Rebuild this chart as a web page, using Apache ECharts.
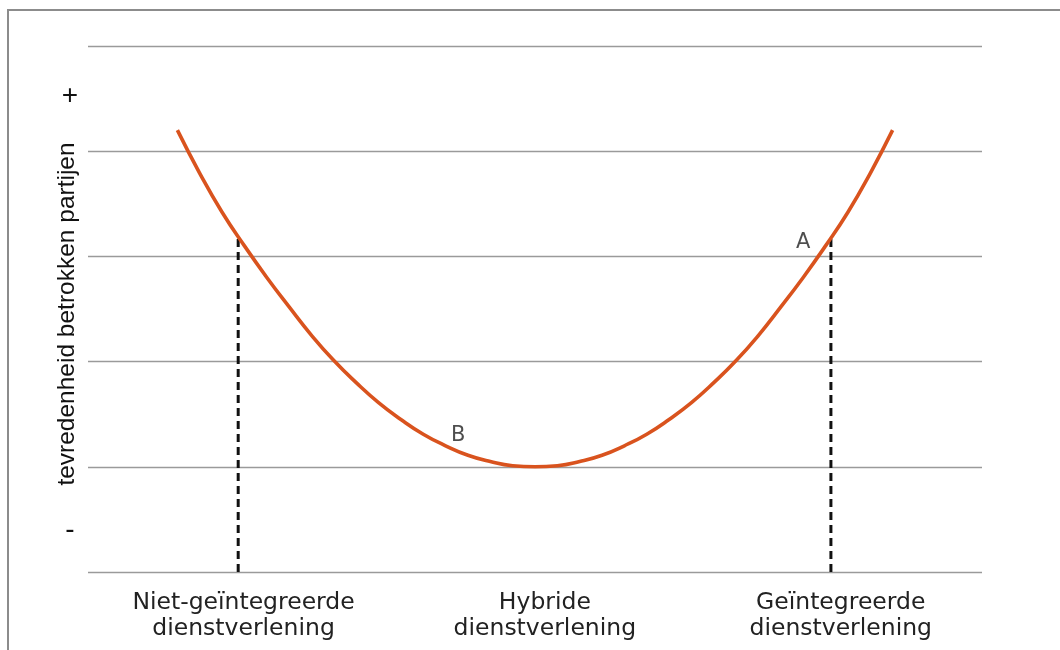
<!DOCTYPE html>
<html>
<head>
<meta charset="utf-8">
<script src="https://cdn.jsdelivr.net/npm/echarts@6/dist/echarts.min.js"></script>
<style>
html,body{margin:0;padding:0;background:#fff;}
#chart{width:1060px;height:650px;}
</style>
</head>
<body>
<div id="chart"></div>
<script>
// Curve (x: 0..100 position along the axis, y: satisfaction 0..5)
const curveX = [10, 12.5, 15, 17.5, 20, 22.5, 25, 27.5, 30, 32.5, 35, 37.5, 40, 42.5, 45, 47.5, 50,
                52.5, 55, 57.5, 60, 62.5, 65, 67.5, 70, 72.5, 75, 77.5, 80, 82.5, 85, 87.5, 90];
const curveY = [4.20, 3.79, 3.42, 3.10, 2.80, 2.52, 2.25, 2.01, 1.80, 1.61, 1.45, 1.31, 1.20, 1.11, 1.05, 1.01, 1.00,
                1.01, 1.05, 1.11, 1.20, 1.31, 1.45, 1.61, 1.80, 2.01, 2.25, 2.52, 2.80, 3.10, 3.42, 3.79, 4.20];

// Dashed drop lines (x position, top value)
const dropX = [16.8, 83.1];
const dropTop = [3.18, 3.20];

// Point labels
const pointNames = ['A', 'B'];
const pointX = [80.0, 41.4];
const pointY = [3.13, 1.30];

// X category labels and their positions
const xLabels = ['Niet-geïntegreerde\ndienstverlening', 'Hybride\ndienstverlening', 'Geïntegreerde\ndienstverlening'];
const xLabelPos = [17.4, 51.1, 84.2];

// Y scale end labels
const yLabels = ['-', '+'];
const yLabelPos = [0.4, 4.52];
const yTitle = 'tevredenheid betrokken partijen';

const chart = echarts.init(document.getElementById('chart'));

const curveData = curveX.map((x, i) => [x, curveY[i]]);
const dropSeries = dropX.map((x, i) => ({
  type: 'line',
  data: [[x, 0], [x, dropTop[i]]],
  symbol: 'none',
  lineStyle: { color: '#111', width: 3, type: [8, 5] },
  z: 1,
  silent: true
}));

chart.setOption({
  animation: false,
  backgroundColor: '#fff',
  grid: { left: 88, right: 78, top: 46, bottom: 78 },
  xAxis: {
    type: 'value', min: 0, max: 100,
    axisLine: { show: false }, axisTick: { show: false },
    splitLine: { show: false },
    axisLabel: {
      customValues: xLabelPos,
      formatter: v => { const i = xLabelPos.indexOf(v); return i >= 0 ? xLabels[i] : ''; },
      fontFamily: 'DejaVu Sans', fontSize: 23.5, color: '#222', lineHeight: 26, margin: 18
    }
  },
  yAxis: {
    type: 'value', min: 0, max: 5, interval: 1,
    axisLine: { show: false }, axisTick: { show: false },
    splitLine: { show: true, lineStyle: { color: '#9a9a9a', width: 1.4 } },
    axisLabel: {
      customValues: yLabelPos,
      formatter: v => { const i = yLabelPos.indexOf(v); return i >= 0 ? yLabels[i] : ''; },
      fontFamily: 'Liberation Sans', fontSize: 28, color: '#111', align: 'center', margin: 18
    },
    name: yTitle, nameLocation: 'middle', nameGap: 8, nameRotate: 90, nameMoveOverlap: false,
    nameTextStyle: { fontFamily: 'Liberation Sans', fontSize: 24.5, color: '#111', padding: [0, 10, 0, 0] }
  },
  graphic: [{
    type: 'rect', silent: true,
    shape: { x: 8, y: 10, width: 1100, height: 700 },
    style: { fill: 'none', stroke: '#8c8c8c', lineWidth: 2 }
  }],
  series: [
    ...dropSeries,
    {
      type: 'line', data: curveData, smooth: 0.5, symbol: 'none',
      lineStyle: { color: '#d9531e', width: 3.6 }, z: 3, silent: true
    },
    {
      type: 'scatter', symbolSize: 0, silent: true,
      data: pointX.map((x, i) => ({ value: [x, pointY[i]], name: pointNames[i] })),
      label: { show: true, position: 'inside', formatter: p => p.name,
               fontFamily: 'DejaVu Sans', fontSize: 21, color: '#222' },
      z: 4
    }
  ]
});
</script>
</body>
</html>
